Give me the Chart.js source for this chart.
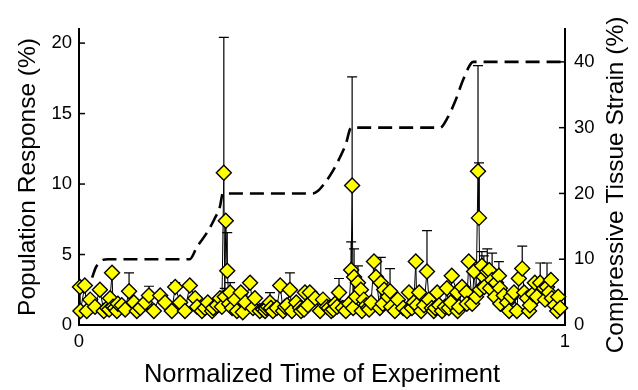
<!DOCTYPE html>
<html>
<head>
<meta charset="utf-8">
<script src="https://cdn.jsdelivr.net/npm/chart.js@4"></script>
<style>
  html, body { margin: 0; padding: 0; background: #fff; }
  #wrap { width: 638px; height: 390px; }
</style>
</head>
<body>
<div id="wrap"><canvas id="myChart" width="638" height="390"></canvas></div>
<script>
// normalized time, response (%) and upper error for each measurement
const respX = [0.002, 0.003, 0.012, 0.016, 0.023, 0.033, 0.043, 0.051, 0.062, 0.064,
  0.068, 0.074, 0.080, 0.088, 0.103, 0.113, 0.119, 0.126, 0.136, 0.144,
  0.154, 0.167, 0.177, 0.191, 0.198, 0.208, 0.218, 0.228, 0.239, 0.253,
  0.265, 0.276, 0.284, 0.290, 0.294, 0.298, 0.300, 0.302, 0.305, 0.309,
  0.311, 0.321, 0.325, 0.333, 0.337, 0.342, 0.352, 0.358, 0.362, 0.372,
  0.383, 0.389, 0.393, 0.399, 0.407, 0.414, 0.420, 0.428, 0.434, 0.438,
  0.447, 0.455, 0.457, 0.465, 0.475, 0.486, 0.496, 0.502, 0.510, 0.519,
  0.527, 0.535, 0.543, 0.549, 0.556, 0.560, 0.562, 0.564, 0.566, 0.570,
  0.574, 0.580, 0.582, 0.586, 0.595, 0.601, 0.607, 0.611, 0.621, 0.628,
  0.636, 0.640, 0.642, 0.650, 0.656, 0.667, 0.675, 0.679, 0.689, 0.693,
  0.700, 0.704, 0.710, 0.716, 0.720, 0.726, 0.730, 0.737, 0.747, 0.753,
  0.757, 0.765, 0.767, 0.778, 0.779, 0.788, 0.797, 0.798, 0.802, 0.809,
  0.813, 0.817, 0.821, 0.823, 0.825, 0.829, 0.833, 0.834, 0.840, 0.844,
  0.850, 0.856, 0.864, 0.866, 0.867, 0.874, 0.881, 0.885, 0.895, 0.901,
  0.905, 0.912, 0.916, 0.922, 0.926, 0.928, 0.938, 0.942, 0.949, 0.957,
  0.963, 0.967, 0.973, 0.979, 0.984, 0.990,
  // stacked low readings
  0.058, 0.070, 0.078, 0.095, 0.243, 0.259, 0.274, 0.315, 0.379, 0.385,
  0.395, 0.424, 0.463, 0.471, 0.514, 0.523, 0.531, 0.591, 0.597, 0.619,
  0.625, 0.685, 0.695, 0.733, 0.741, 0.761, 0.782, 0.846, 0.858, 0.889,
  0.934, 0.959, 0.971, 0.986];
const respY = [2.7, 1.0, 2.8, 1.0, 1.8, 1.3, 2.5, 1.0, 1.1, 1.9,
  3.7, 1.2, 1.5, 1.4, 2.4, 1.6, 1.0, 1.2, 1.6, 2.1,
  1.0, 2.1, 1.6, 1.0, 2.7, 1.6, 1.0, 2.8, 1.9, 1.0,
  1.6, 1.2, 1.4, 1.9, 1.3, 10.8, 2.0, 7.4, 3.85, 1.5,
  2.3, 1.8, 1.0, 2.3, 0.9, 1.6, 3.0, 1.2, 1.9, 1.0,
  1.0, 1.3, 1.6, 1.0, 1.2, 2.8, 1.0, 1.4, 2.5, 1.0,
  1.6, 1.2, 1.0, 2.3, 2.3, 1.9, 1.0, 1.8, 1.3, 1.0,
  1.5, 2.3, 1.2, 1.0, 1.5, 3.9, 9.9, 1.2, 3.4, 2.0,
  3.0, 2.5, 1.0, 1.8, 1.2, 1.6, 4.5, 3.4, 3.0, 2.5,
  2.0, 2.4, 1.3, 1.0, 1.8, 1.2, 1.0, 2.3, 1.6, 4.5,
  2.3, 1.0, 1.4, 3.8, 1.8, 1.2, 1.0, 2.3, 1.0, 1.3,
  2.6, 1.6, 3.5, 2.3, 1.0, 2.7, 2.3, 1.5, 4.5, 1.5,
  3.8, 2.0, 10.9, 7.6, 2.5, 4.2, 3.4, 2.7, 3.8, 3.9,
  3.2, 2.0, 3.5, 2.6, 1.5, 2.1, 1.6, 1.0, 2.3, 1.0,
  3.3, 4.0, 2.3, 1.9, 1.0, 1.4, 3.0, 2.0, 3.0, 2.6,
  2.7, 2.3, 1.9, 1.4, 1.0, 1.2,
  1.2, 1.3, 1.0, 1.1, 1.3, 1.2, 1.0, 1.2, 1.1, 1.2,
  1.2, 1.3, 1.1, 1.4, 1.2, 1.1, 1.3, 1.4, 1.1, 1.2,
  1.5, 1.2, 1.4, 1.2, 1.4, 1.2, 1.3, 2.6, 3.0, 2.0,
  2.2, 1.8, 3.2, 2.0];
const respErr = [0, 0, 0, 0, 0, 0, 0, 0, 0, 0,
  0, 0, 0, 0, 1.3, 0, 0, 0, 0, 0.65,
  0, 0, 0, 0, 0.3, 0, 0, 0, 0, 0,
  0, 0, 0, 0, 0, 9.6, 0.6, 0, 2.7, 0,
  0.7, 0, 0, 0, 0, 0, 0, 0, 0, 0,
  0, 0, 0.7, 0, 0, 0, 0, 0, 1.2, 0,
  0, 0, 0, 0, 0, 0, 0, 0, 0, 0,
  0, 1.0, 0, 0, 0, 2.0, 7.7, 0, 2.0, 0,
  1.2, 0, 0, 0, 0, 0, 0, 0, 1.8, 0,
  0, 1.6, 0, 0, 0, 0, 0, 0, 0, 0,
  0, 0, 0, 2.9, 0, 0, 0, 0, 0, 0,
  0, 0, 0, 0, 0, 0, 0, 0, 0, 0,
  0, 0, 7.5, 3.9, 0, 1.0, 1.5, 0, 1.6, 0,
  1.9, 0, 1.0, 0, 0, 0, 0, 0, 0, 0,
  0, 1.6, 0, 0, 0, 0, 0, 0, 1.4, 0,
  1.7, 0, 0, 0, 0, 0,
  0, 0, 0, 0, 0, 0, 0, 0, 0, 0,
  0, 0, 0, 0, 0, 0, 0, 0, 0, 0,
  0, 0, 0, 0, 0, 0, 0, 0, 0, 0,
  0, 0, 0, 0];

// applied compressive strain (%)
const strainX = [0.027, 0.035, 0.049, 0.060, 0.228, 0.243, 0.263, 0.278, 0.290, 0.296,
  0.481, 0.492, 0.506, 0.523, 0.537, 0.549, 0.560, 0.743, 0.759, 0.774,
  0.790, 0.805, 0.811, 1.0];
const strainY = [7.2, 8.8, 9.9, 10, 10, 11.9, 14, 16, 18, 20,
  20, 20.4, 21.6, 23.5, 25.5, 27.5, 30, 30, 31.6, 34,
  37.2, 39.6, 40, 40];

const xTicks = [0, 1];
const leftTicks = [0, 5, 10, 15, 20];
const rightTicks = [0, 10, 20, 30, 40];

const FONT = "'Liberation Sans', Arial, Helvetica, sans-serif";

// sorted by time so the connecting line runs left to right
const respPoints = respX.map((x, i) => ({ x: x, y: respY[i] }))
  .sort((a, b) => a.x - b.x);
const strainPoints = strainX.map((x, i) => ({ x: x, y: strainY[i] }));

// upper error bars with caps, under the markers
const errorBars = {
  id: 'errorBars',
  beforeDatasetsDraw(chart) {
    const ctx = chart.ctx;
    const xs = chart.scales.x, ys = chart.scales.y;
    ctx.save();
    ctx.strokeStyle = '#000';
    ctx.lineWidth = 1.2;
    respX.forEach((x, i) => {
      if (!respErr[i]) return;
      const px = xs.getPixelForValue(x);
      const y0 = ys.getPixelForValue(respY[i]);
      const y1 = ys.getPixelForValue(respY[i] + respErr[i]);
      ctx.beginPath();
      ctx.moveTo(px, y0);
      ctx.lineTo(px, y1);
      ctx.moveTo(px - 5, y1);
      ctx.lineTo(px + 5, y1);
      ctx.stroke();
    });
    ctx.restore();
  }
};

// inward tick marks and the right axis label (reads bottom to top)
const axisExtras = {
  id: 'axisExtras',
  afterDraw(chart) {
    const ctx = chart.ctx;
    const ys = chart.scales.y, y2 = chart.scales.y2;
    const a = chart.chartArea;
    ctx.save();
    ctx.strokeStyle = '#000';
    ctx.lineWidth = 1.5;
    leftTicks.forEach(v => {
      const py = ys.getPixelForValue(v);
      ctx.beginPath();
      ctx.moveTo(a.left, py);
      ctx.lineTo(a.left + 6, py);
      ctx.stroke();
    });
    rightTicks.forEach(v => {
      const py = y2.getPixelForValue(v);
      ctx.beginPath();
      ctx.moveTo(a.right, py);
      ctx.lineTo(a.right - 6, py);
      ctx.stroke();
    });
    ctx.translate(616, (a.top + a.bottom) / 2 + 8);
    ctx.rotate(-Math.PI / 2);
    ctx.fillStyle = '#000';
    ctx.font = '24.5px ' + FONT;
    ctx.textAlign = 'center';
    ctx.textBaseline = 'middle';
    ctx.fillText('Compressive Tissue Strain (%)', 0, 0);
    ctx.restore();
  }
};

const ctx = document.getElementById('myChart').getContext('2d');
const myChart = new Chart(ctx, {
  type: 'scatter',
  data: {
    datasets: [
      {
        label: 'Strain',
        data: strainPoints,
        yAxisID: 'y2',
        showLine: true,
        borderColor: '#000',
        borderWidth: 2.6,
        borderDash: [14, 7],
        pointRadius: 0,
        cubicInterpolationMode: 'monotone'
      },
      {
        label: 'Response',
        data: respPoints,
        yAxisID: 'y',
        showLine: true,
        borderColor: '#000',
        borderWidth: 1,
        pointStyle: 'rectRot',
        pointRadius: 7.5,
        pointBackgroundColor: '#ffff00',
        pointBorderColor: '#000',
        pointBorderWidth: 1.4,
        clip: false
      }
    ]
  },
  options: {
    responsive: false,
    animation: false,
    layout: { padding: { top: 29, left: 0, right: 0, bottom: 0 } },
    plugins: { legend: { display: false }, tooltip: { enabled: false } },
    scales: {
      x: {
        type: 'linear',
        min: 0,
        max: 1,
        afterBuildTicks: s => { s.ticks = xTicks.map(v => ({ value: v })); },
        afterFit: s => { s.height = 65; },
        grid: { display: false, drawTicks: false },
        border: { display: true, color: '#000', width: 2 },
        ticks: { color: '#000', font: { family: FONT, size: 18.5 }, padding: 6, maxRotation: 0 },
        title: { display: true, text: 'Normalized Time of Experiment', color: '#000',
          font: { family: FONT, size: 25.5 }, padding: { top: 0, bottom: 0 } }
      },
      y: {
        position: 'left',
        min: 0,
        max: 21,
        afterBuildTicks: s => { s.ticks = leftTicks.map(v => ({ value: v })); },
        afterFit: s => { s.width = 79; },
        grid: { display: false, drawTicks: false },
        border: { display: true, color: '#000', width: 2 },
        ticks: { color: '#000', font: { family: FONT, size: 18.5 }, padding: 7 },
        title: { display: true, text: 'Population Response (%)', color: '#000',
          font: { family: FONT, size: 24.5 }, padding: { top: 14, bottom: 0 } }
      },
      y2: {
        position: 'right',
        min: 0,
        max: 45,
        afterBuildTicks: s => { s.ticks = rightTicks.map(v => ({ value: v })); },
        afterFit: s => { s.width = 73; },
        grid: { display: false, drawTicks: false },
        border: { display: true, color: '#000', width: 2 },
        ticks: { color: '#000', font: { family: FONT, size: 18.5 }, padding: 9 }
      }
    }
  },
  plugins: [errorBars, axisExtras]
});
</script>
</body>
</html>
